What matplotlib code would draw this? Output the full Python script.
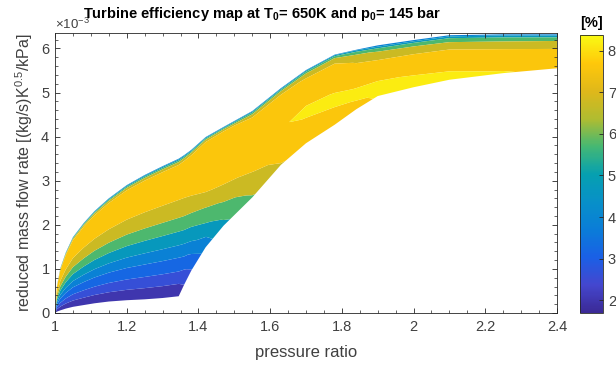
import numpy as np
import matplotlib
matplotlib.use("Agg")
import matplotlib.pyplot as plt
from matplotlib.colors import LinearSegmentedColormap, Normalize
from matplotlib.ticker import MultipleLocator, FormatStrFormatter
import matplotlib.cm as cm

plt.rcParams['font.family'] = ['Liberation Sans', 'DejaVu Sans']
plt.rcParams['mathtext.fontset'] = 'custom'
plt.rcParams['mathtext.rm'] = 'Liberation Sans'
plt.rcParams['mathtext.bf'] = 'Liberation Sans:bold'
plt.rcParams['mathtext.default'] = 'regular'

# columns of the map (pressure ratio)
pressure_ratio = [1.0, 1.005, 1.015, 1.03, 1.05, 1.08, 1.11, 1.15, 1.2, 1.25, 1.3,
                  1.345, 1.36, 1.38, 1.42, 1.47, 1.55, 1.63, 1.70, 1.78, 1.84, 1.90,
                  2.00, 2.10, 2.25, 2.40]
# lower / upper edge of the map, reduced mass flow [1e-3 (kg/s)K^0.5/kPa]
flow_low = [0.0, 0.03, 0.06, 0.10, 0.14, 0.18, 0.22, 0.26, 0.29, 0.31, 0.34,
            0.38, 0.64, 0.96, 1.49, 1.98, 2.62, 3.36, 3.85, 4.27, 4.62, 4.92,
            5.12, 5.29, 5.44, 5.55]
flow_high = [0.0, 0.60, 1.02, 1.37, 1.72, 2.04, 2.31, 2.60, 2.90, 3.13, 3.33,
             3.50, 3.58, 3.70, 3.99, 4.22, 4.58, 5.10, 5.51, 5.86, 5.97, 6.07,
             6.19, 6.30, 6.32, 6.32]
# rows: position between lower (0) and upper (1) edge
flow_frac = [0, .09, .18, .28, .37, .47, .57, .70, .80, .90, .95, .975, .99, 1.0]

# efficiency [%] along each column, bottom to top
eff_fan = [1.85, 2.3, 2.9, 3.5, 4.2, 5.2, 6.3, 7.2, 7.6, 7.7, 7.4, 6.3, 4.8, 3.6]
eff_136 = [2.3, 2.75, 3.25, 3.9, 4.65, 5.7, 6.7, 7.35, 7.6, 7.7, 7.4, 6.3, 4.8, 3.6]
eff_138 = [2.85, 3.26, 3.71, 4.47, 5.27, 6.24, 7.04, 7.45, 7.65, 7.7, 7.4, 6.3, 4.8, 3.6]
eff_142 = [3.75, 4.17, 4.88, 5.68, 6.38, 7.11, 7.4, 7.6, 7.7, 7.7, 7.4, 6.3, 4.8, 3.6]
eff_147 = [4.9, 5.37, 5.93, 6.54, 7.06, 7.35, 7.5, 7.65, 7.7, 7.7, 7.4, 6.3, 4.8, 3.6]
eff_155 = [6.2, 6.55, 6.84, 7.17, 7.35, 7.5, 7.6, 7.7, 7.7, 7.5, 6.9, 5.6, 4.5, 3.6]
eff_163 = [7.15, 7.35, 7.5, 7.6, 7.75, 7.95, 7.9, 7.8, 7.65, 7.35, 6.8, 5.4, 4.3, 3.6]
eff_170 = [7.4, 7.55, 7.7, 7.85, 8.05, 8.1, 7.85, 7.7, 7.5, 7.15, 6.4, 5.3, 4.4, 3.6]
eff_178 = [7.55, 7.7, 7.85, 8.06, 8.1, 7.98, 7.85, 7.6, 7.45, 7.1, 6.3, 5.3, 4.4, 3.6]
eff_184 = [7.8, 7.92, 8.05, 8.1, 7.98, 7.8, 7.6, 7.35, 7.15, 6.6, 5.7, 4.9, 4.2, 3.6]
eff_190 = [8.05, 8.08, 8.05, 8.03, 7.85, 7.7, 7.5, 7.23, 6.9, 6.1, 5.0, 4.15, 3.8, 3.6]
eff_200 = [8.1, 8.1, 8.05, 7.98, 7.85, 7.7, 7.5, 7.2, 6.85, 6.0, 5.0, 4.15, 3.8, 3.6]
eff_210 = [8.08, 8.05, 8.01, 7.9, 7.8, 7.6, 7.45, 7.15, 6.7, 5.8, 4.9, 4.15, 3.8, 3.6]
eff_225 = [8.03, 7.98, 7.9, 7.8, 7.7, 7.55, 7.35, 6.95, 6.45, 5.5, 4.7, 4.1, 3.8, 3.6]
eff_240 = [7.9, 7.8, 7.7, 7.6, 7.5, 7.35, 7.2, 6.8, 6.35, 5.35, 4.5, 4.0, 3.75, 3.6]

eff_columns = [eff_fan] * 12 + [eff_136, eff_138, eff_142, eff_147, eff_155, eff_163,
                                eff_170, eff_178, eff_184, eff_190, eff_200, eff_210,
                                eff_225, eff_240]

levels = [1.69, 2.3, 2.9, 3.5, 4.2, 5.2, 6.3, 7.2, 8.0, 8.38]
cbar_ticks = [2, 3, 4, 5, 6, 7, 8]

# parula-like colormap
parula = LinearSegmentedColormap.from_list('parula', [
    '#3b2995', '#4447cf', '#1a60e6', '#0a7dd8', '#0890c8', '#06a0b0',
    '#45b873', '#b0bc30', '#e0b81a', '#ffc80a', '#f9fa14'])
norm = Normalize(vmin=1.69, vmax=8.38)

X = np.tile(pressure_ratio, (len(flow_frac), 1))
frac = np.array(flow_frac)[:, None]
low = np.array(flow_low)
high = np.array(flow_high)
Y = (low + frac * (high - low)) * 1e-3
Z = np.array(eff_columns).T

fig = plt.figure(figsize=(6.16, 3.65), dpi=100)
ax = fig.add_axes([55/616, 1 - 313/365, 502/616, 280/365])
ax.contourf(X, Y, Z, levels=levels, cmap=parula, norm=norm, antialiased=True)

ax.set_xlim(1, 2.4)
ax.set_ylim(0, 6.35e-3)
ax.xaxis.set_major_locator(MultipleLocator(0.2))
ax.xaxis.set_minor_locator(MultipleLocator(0.05))
ax.xaxis.set_major_formatter(FormatStrFormatter('%g'))
ax.yaxis.set_major_locator(MultipleLocator(1e-3))
ax.yaxis.set_minor_locator(MultipleLocator(0.2e-3))
ax.ticklabel_format(axis='y', style='sci', scilimits=(-3, -3), useMathText=True)
ax.tick_params(which='both', direction='in', top=True, right=True,
               colors='#262626', labelcolor='#404040', labelsize=10.5)
ax.tick_params(which='major', length=3.5, width=0.6)
ax.tick_params(which='minor', length=2, width=0.5)
ax.tick_params(axis='x', pad=5)
ax.yaxis.get_offset_text().set_fontsize(9.5)
ax.yaxis.get_offset_text().set_color('#404040')
for s in ax.spines.values():
    s.set_color('#262626')
    s.set_linewidth(0.6)

ax.set_xlabel('pressure ratio', fontsize=12, color='#404040', labelpad=8)
ax.set_ylabel('reduced mass flow rate [(kg/s)K$^{0.5}$/kPa]', fontsize=11.5,
              color='#404040', labelpad=4)
fig.text(262/616, 1 - 18/365,
         r'Turbine efficiency map at T$_\mathbf{0}$= 650K and p$_\mathbf{0}$= 145 bar',
         fontsize=10.5, fontweight='bold', ha='center', va='baseline')

cax = fig.add_axes([580/616, 1 - 313/365, 23/616, 278/365])
sm = cm.ScalarMappable(norm=norm, cmap=parula)
cb = fig.colorbar(sm, cax=cax, ticks=cbar_ticks)
cb.outline.set_edgecolor('#262626')
cb.outline.set_linewidth(0.6)
cax.tick_params(direction='in', length=3, width=0.6, colors='#262626',
                labelcolor='#404040', labelsize=10.5)
cax.set_title('[%]', fontsize=10.5, fontweight='bold', pad=6)

fig.savefig('out.png', dpi=100)
